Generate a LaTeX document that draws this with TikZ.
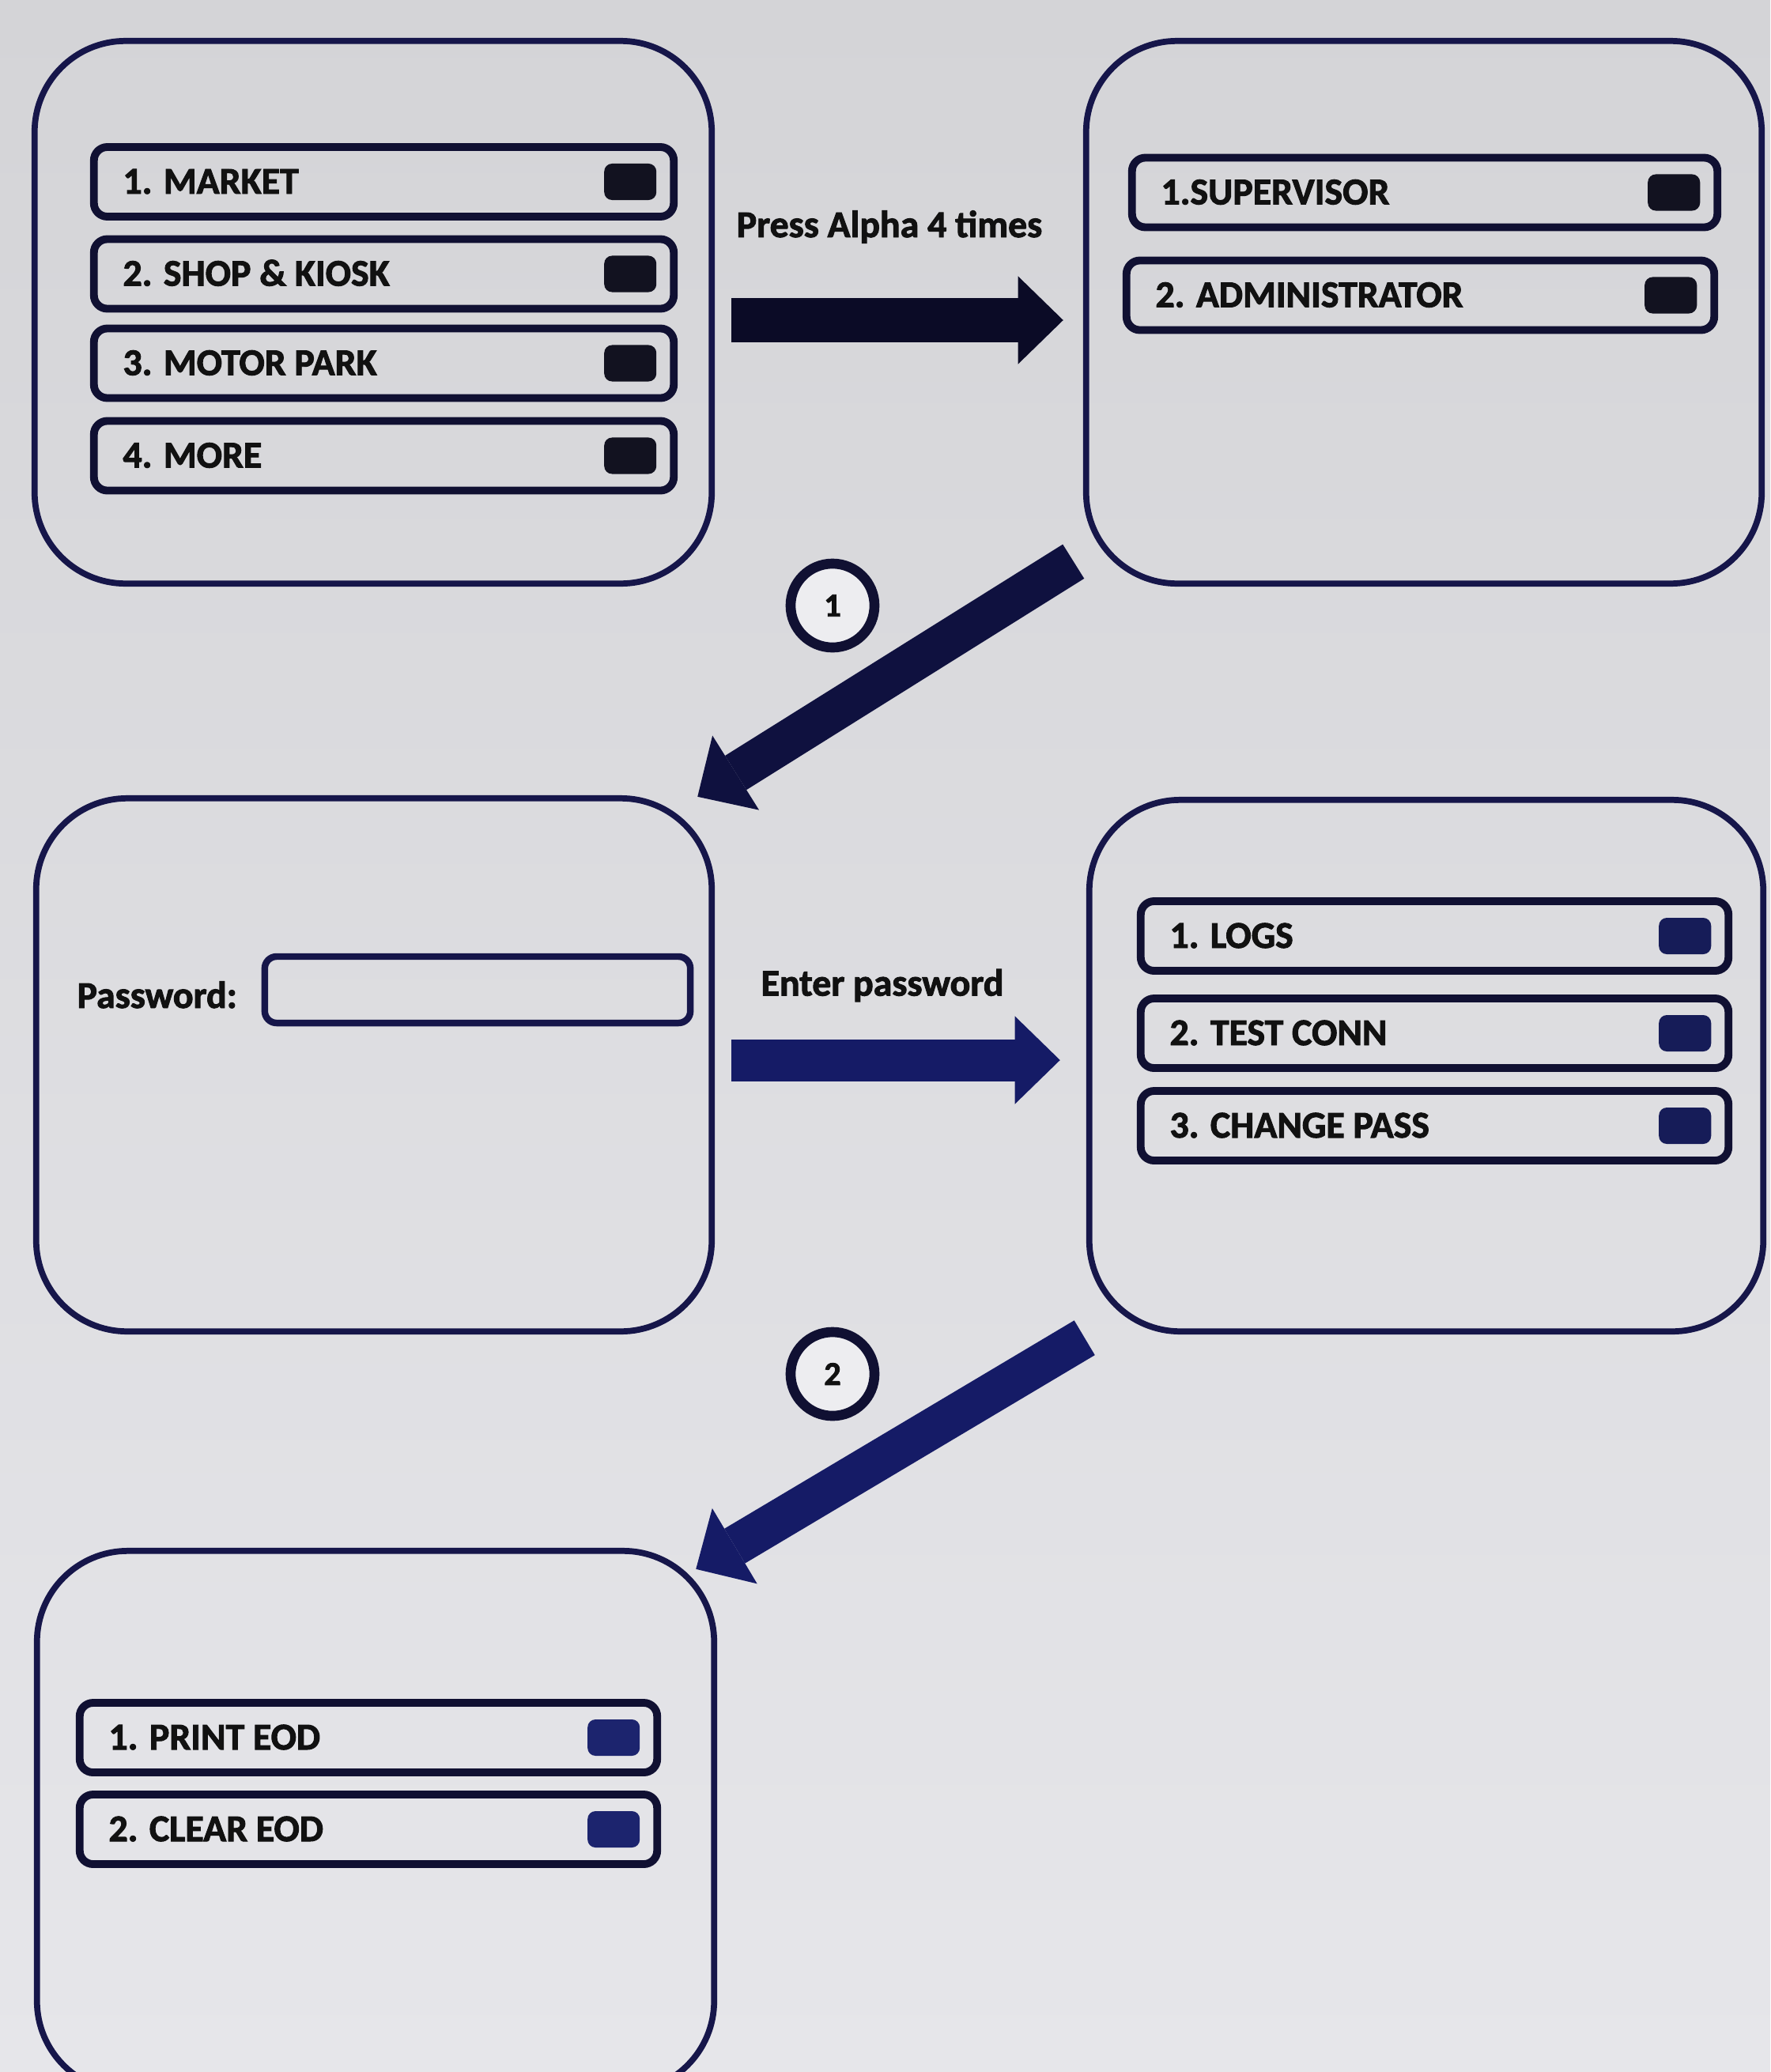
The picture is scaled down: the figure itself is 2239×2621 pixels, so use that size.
\documentclass[tikz,border=0pt]{standalone}
\usepackage{fontspec}
\newfontfamily\uif[BoldFeatures={FakeBold=2}]{Carlito}
\usetikzlibrary{calc,arrows.meta}
\definecolor{bgtop}{HTML}{D4D4D7}
\definecolor{bgbot}{HTML}{E6E6EA}
\definecolor{frame}{HTML}{16164A}
\definecolor{itemline}{HTML}{101032}
\definecolor{arrowA}{HTML}{0B0B26}
\definecolor{arrowB}{HTML}{151B66}
\definecolor{sqA}{HTML}{121220}
\definecolor{sqB}{HTML}{161C58}
\definecolor{sqC}{HTML}{1C246E}
\definecolor{txt}{HTML}{111111}
\definecolor{circfill}{HTML}{EDEDF0}
\newcommand{\mitem}[6]{%
  \node[itembox, minimum width=#4] (#1) at (#2,#3) {};
  \node[uitext, anchor=base west] (#1t) at ($(#1.west)+(36,15)$) {#5};
  \node[sqbox, fill=#6] (#1s) at ($(#1.east)+(-55,0)$) {};
}
\begin{document}
\begin{tikzpicture}[x=0.01cm,y=-0.01cm,
  screen/.style={rectangle, draw=frame, line width=2.2pt, rounded corners=1.15cm, outer sep=0pt, inner sep=0pt},
  itembox/.style={rectangle, draw=itemline, line width=2.8pt, rounded corners=0.17cm, minimum height=0.88cm, outer sep=0pt, inner sep=0pt},
  sqbox/.style={rectangle, rounded corners=0.1cm, minimum width=0.66cm, minimum height=0.46cm, inner sep=0pt, outer sep=0pt},
  uitext/.style={font={\uif\bfseries\fontsize{13.6pt}{16pt}\selectfont}, text=txt, inner sep=0pt},
  stepnum/.style={circle, draw=itemline, line width=3.6pt, fill=circfill, minimum size=1.06cm, inner sep=0pt, font={\uif\bfseries\fontsize{12pt}{14pt}\selectfont}, text=txt},
  bigarrow/.style={line width=0.55cm, -{Triangle[length=0.57cm,width=1.11cm,line width=0pt]}},
]
\useasboundingbox (0,0) rectangle (2239,2621);
\shade[top color=bgtop, bottom color=bgbot] (0,0) rectangle (2239,2621);
\clip (0,0) rectangle (2239,2621);

% screens
\node[screen, minimum width=8.56cm, minimum height=6.86cm] (s1) at (472,395) {};
\node[screen, minimum width=8.54cm, minimum height=6.86cm] (s2) at (1801,395) {};
\node[screen, minimum width=8.54cm, minimum height=6.74cm] (s3) at (473,1347) {};
\node[screen, minimum width=8.52cm, minimum height=6.72cm] (s4) at (1804,1348) {};
\node[screen, minimum width=8.56cm, minimum height=6.84cm] (s5) at (475,2304) {};

% menu items
\mitem{a1}{485.5}{230}{7.33cm}{1. MARKET}{sqA}
\mitem{a2}{485.5}{346.5}{7.33cm}{2. SHOP \& KIOSK}{sqA}
\mitem{a3}{485.5}{459.5}{7.33cm}{3. MOTOR PARK}{sqA}
\mitem{a4}{485.5}{576.5}{7.33cm}{4. MORE}{sqA}
\mitem{b1}{1802}{243.5}{7.40cm}{1.SUPERVISOR}{sqA}
\mitem{b2}{1796.5}{373.5}{7.43cm}{2. ADMINISTRATOR}{sqA}
\mitem{d1}{1814.5}{1184}{7.43cm}{1. LOGS}{sqB}
\mitem{d2}{1814.5}{1307}{7.43cm}{2. TEST CONN}{sqB}
\mitem{d3}{1814.5}{1424}{7.43cm}{3. CHANGE PASS}{sqB}
\mitem{e1}{466}{2198}{7.30cm}{1. PRINT EOD}{sqC}
\mitem{e2}{466}{2314}{7.30cm}{2. CLEAR EOD}{sqC}

% password field
\node[itembox, draw=frame, line width=2.4pt, minimum width=5.38cm, minimum height=0.84cm, rounded corners=0.15cm] (pw) at (604,1252) {};
\node[uitext, anchor=base west] (pwl) at ($(pw.west)+(-238,23)$) {Password:};

% arrow labels
\node[uitext, anchor=base] (l1) at ($(s1.east)!0.5!(s2.west)+(-12,-95)$) {Press Alpha 4 times};
\node[uitext, anchor=base] (l2) at ($(s3.east)!0.5!(s4.west)+(-23,-88)$) {Enter password};

% arrows
\draw[bigarrow, arrowA] ($(s1.east)+(25,10)$) -- ($(s2.west)+(-29,10)$);
\draw[bigarrow, arrowB, line width=0.53cm] ($(s3.east)+(25,-6)$) -- ($(s4.west)+(-37,-7)$);
\draw[bigarrow, arrowA!60!arrowB, line width=0.51cm] ($(s2.south west)+(-16,-28)$) -- ($(s3.north east)+(-18,-2)$);
\draw[bigarrow, arrowB, line width=0.51cm] ($(s4.south west)+(-6,8)$) -- ($(s5.north east)+(-23,23)$);

% step numbers
\node[stepnum] (n1) at (1053,766) {1};
\node[stepnum] (n2) at (1053,1738) {2};
\end{tikzpicture}
\end{document}
